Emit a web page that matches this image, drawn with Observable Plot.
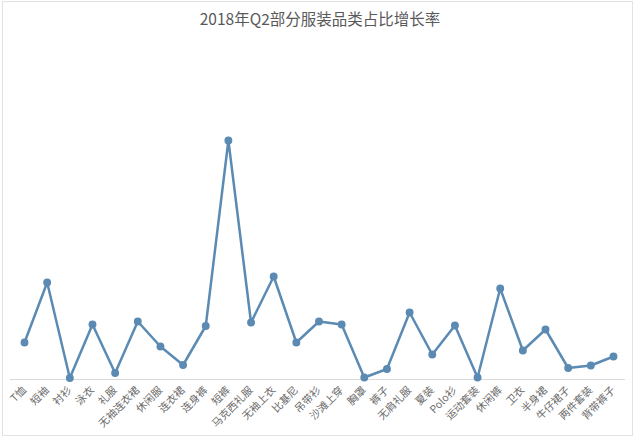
<!DOCTYPE html>
<html>
<head>
<meta charset="utf-8">
<script src="https://cdn.jsdelivr.net/npm/d3@7"></script>
<script src="https://cdn.jsdelivr.net/npm/@observablehq/plot@0.6"></script>
<style>
  html, body { margin: 0; padding: 0; background: #fff; }
  #wrap { position: relative; width: 640px; height: 440px; overflow: hidden; font-family: "Noto Sans CJK SC", "Noto Sans", sans-serif; }
  #frame { position: absolute; left: 2px; top: 1px; width: 631px; height: 435px; border: 1px solid #e3e3e3; box-sizing: border-box; pointer-events: none; }
  #title { position: absolute; left: 0; top: 0; width: 640px; height: 37px; line-height: 37px; text-align: center; font-size: 15.5px; color: #595959; }
  #chart { position: absolute; left: 0; top: 36px; }
</style>
</head>
<body>
<div id="wrap">
  <div id="frame"></div>
  <div id="title">2018年Q2部分服装品类占比增长率</div>
  <div id="chart"></div>
</div>
<script>
const categories = ["T恤","短袖","衬衫","泳衣","礼服","无袖连衣裙","休闲服","连衣裙","连身裤","短裤","马克西礼服","无袖上衣","比基尼","吊带衫","沙滩上穿","胸罩","裤子","无肩礼服","夏装","Polo衫","运动套装","休闲裤","卫衣","半身裙","牛仔裙子","两件套装","背带裤子"];
const values = [37, 97, 1.5, 55, 6.5, 58, 33, 14.5, 53.5, 239, 57, 103, 37, 58, 55, 2, 10.5, 67, 25, 54, 2, 91, 29, 50, 11.5, 14, 23];

const data = categories.map((c, i) => ({cat: c, v: values[i]}));
const color = "#5b8ab3";

const chart = Plot.plot({
  width: 640,
  height: 404,
  marginTop: 103,
  marginBottom: 61,
  marginLeft: 10,
  marginRight: 15,
  style: {fontFamily: "'Noto Sans CJK SC', sans-serif", fontSize: "11px", color: "#6a6a6a", background: "transparent"},
  x: {type: "point", domain: categories, range: [12.7, 624.3], padding: 0.5, round: false},
  y: {domain: [0, 240], axis: null},
  marks: [
    Plot.ruleY([0], {stroke: "#d9d9d9", strokeWidth: 1}),
    Plot.axisX({tickRotate: -45, tickSize: 0, tickPadding: 9, fill: "#6a6a6a", fontSize: 10.5, label: null}),
    Plot.line(data, {x: "cat", y: "v", stroke: color, strokeWidth: 2.5, curve: "linear"}),
    Plot.dot(data, {x: "cat", y: "v", r: 3.2, fill: color, stroke: color})
  ]
});
document.getElementById("chart").appendChild(chart);
</script>
</body>
</html>
